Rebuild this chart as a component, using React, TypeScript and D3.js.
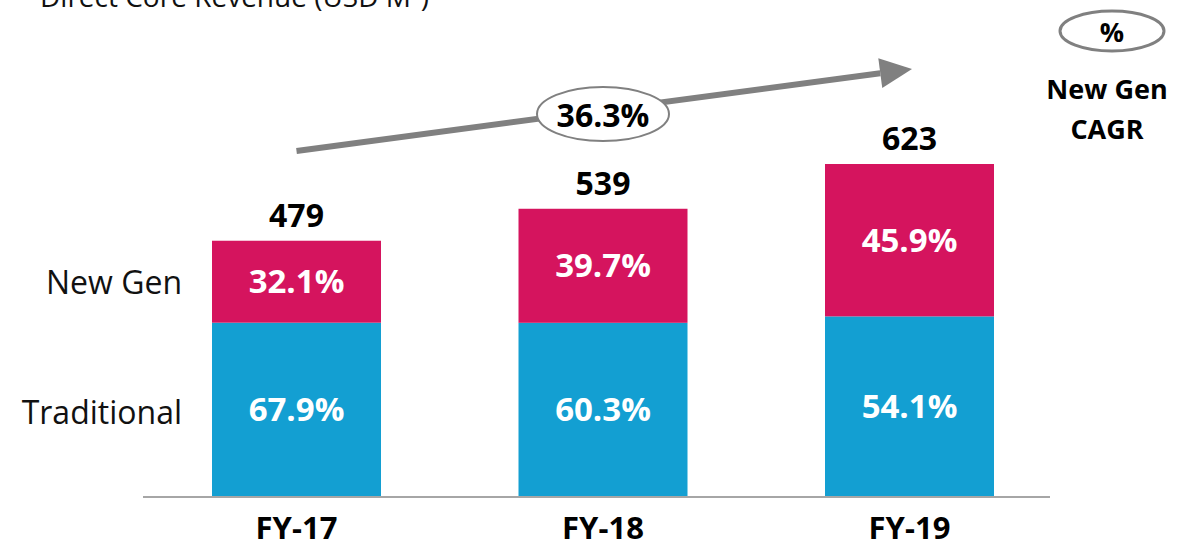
import React, { useEffect, useRef } from 'react';
import * as d3 from 'd3';

const years = ['FY-17', 'FY-18', 'FY-19'];
const totals = [479, 539, 623];
const newGenShare = [32.1, 39.7, 45.9];
const traditionalShare = [67.9, 60.3, 54.1];
const cagrLabel = '36.3%';

const W = 1189;
const H = 549;
const MAGENTA = '#D5145E';
const BLUE = '#139FD2';
const GREY = '#808080';
const FONT = "'Open Sans', 'Noto Sans', sans-serif";

const App = () => {
    const svgRef = useRef<SVGSVGElement>(null);

    useEffect(() => {
        if (!svgRef.current) return;
        const svg = d3.select(svgRef.current);
        svg.selectAll('*').remove();

        const x = d3.scalePoint<string>().domain(years).range([296.5, 909.5]);
        const barW = 169;
        const y = d3.scaleLinear().domain([0, 623]).range([496, 164]);

        // title, cut off at the top (as in the source slide)
        svg.append('text')
            .attr('x', 40).attr('y', 7)
            .attr('font-family', FONT).attr('font-size', 28).attr('fill', '#111')
            .text('Direct Core Revenue (USD M¹)');

        const rows = years.map((yr, i) => ({
            yr, total: totals[i], ng: newGenShare[i], tr: traditionalShare[i],
            split: totals[i] * traditionalShare[i] / 100
        }));

        const g = svg.append('g');

        // traditional
        g.selectAll('.tr').data(rows).join('rect')
            .attr('x', d => x(d.yr)! - barW / 2)
            .attr('width', barW)
            .attr('y', d => y(d.split))
            .attr('height', d => y(0) - y(d.split))
            .attr('fill', BLUE);

        // new gen
        g.selectAll('.ng').data(rows).join('rect')
            .attr('x', d => x(d.yr)! - barW / 2)
            .attr('width', barW)
            .attr('y', d => y(d.total))
            .attr('height', d => y(d.split) - y(d.total))
            .attr('fill', MAGENTA);

        const segText = (sel: any) => sel
            .attr('text-anchor', 'middle').attr('dominant-baseline', 'central')
            .attr('font-family', FONT).attr('font-weight', 700)
            .attr('font-size', 33).attr('fill', '#fff');

        g.selectAll('.trl').data(rows).join('text')
            .attr('x', d => x(d.yr)!)
            .attr('y', d => (y(0) + y(d.split)) / 2 - 1)
            .call(segText)
            .text(d => d.tr.toFixed(1) + '%');

        g.selectAll('.ngl').data(rows).join('text')
            .attr('x', d => x(d.yr)!)
            .attr('y', d => (y(d.split) + y(d.total)) / 2 - 1)
            .call(segText)
            .text(d => d.ng.toFixed(1) + '%');

        // totals
        g.selectAll('.tot').data(rows).join('text')
            .attr('x', d => x(d.yr)!)
            .attr('y', d => y(d.total) - 14)
            .attr('text-anchor', 'middle')
            .attr('font-family', FONT).attr('font-weight', 700)
            .attr('font-size', 32).attr('fill', '#000')
            .text(d => d.total);

        // baseline
        svg.append('line')
            .attr('x1', 143).attr('x2', 1050)
            .attr('y1', y(0) + 1).attr('y2', y(0) + 1)
            .attr('stroke', '#a6a6a6').attr('stroke-width', 2);

        // x labels
        g.selectAll('.xl').data(years).join('text')
            .attr('x', d => x(d)!)
            .attr('y', 539)
            .attr('text-anchor', 'middle')
            .attr('font-family', FONT).attr('font-weight', 700)
            .attr('font-size', 31).attr('fill', '#000')
            .text(d => d);

        // series labels on left
        const sLab = [
            { t: 'New Gen', v: (y(rows[0].split) + y(rows[0].total)) / 2 },
            { t: 'Traditional', v: (y(0) + y(rows[0].split)) / 2 + 2 }
        ];
        svg.selectAll('.sl').data(sLab).join('text')
            .attr('x', 182).attr('y', d => d.v)
            .attr('text-anchor', 'end').attr('dominant-baseline', 'central')
            .attr('font-family', FONT).attr('font-size', 32).attr('fill', '#111')
            .text(d => d.t);

        // CAGR arrow
        const x0 = x(years[0])!, y0 = 151;
        const x1 = 912, y1 = 69;
        const ang = Math.atan2(y1 - y0, x1 - x0);
        const head = 32, hw = 15;
        const bx = x1 - head * Math.cos(ang), by = y1 - head * Math.sin(ang);
        svg.append('line')
            .attr('x1', x0).attr('y1', y0).attr('x2', bx).attr('y2', by)
            .attr('stroke', GREY).attr('stroke-width', 6);
        svg.append('path')
            .attr('d', d3.line()([
                [x1, y1],
                [bx + hw * Math.sin(ang), by - hw * Math.cos(ang)],
                [bx - hw * Math.sin(ang), by + hw * Math.cos(ang)]
            ]) + 'Z')
            .attr('fill', GREY);

        const cx = x(years[1])!, cy = 114;
        svg.append('ellipse')
            .attr('cx', cx).attr('cy', cy).attr('rx', 66).attr('ry', 27)
            .attr('fill', '#fff').attr('stroke', GREY).attr('stroke-width', 2);
        svg.append('text')
            .attr('x', cx).attr('y', cy)
            .attr('text-anchor', 'middle').attr('dominant-baseline', 'central')
            .attr('font-family', FONT).attr('font-weight', 700)
            .attr('font-size', 32).attr('fill', '#000')
            .text(cagrLabel);

        // legend, top right
        svg.append('ellipse')
            .attr('cx', 1112).attr('cy', 31).attr('rx', 52).attr('ry', 20)
            .attr('fill', '#fff').attr('stroke', GREY).attr('stroke-width', 3);
        svg.append('text')
            .attr('x', 1112).attr('y', 31)
            .attr('text-anchor', 'middle').attr('dominant-baseline', 'central')
            .attr('font-family', FONT).attr('font-weight', 700)
            .attr('font-size', 27).attr('fill', '#000')
            .text('%');
        svg.selectAll('.lg').data(['New Gen', 'CAGR']).join('text')
            .attr('x', 1107).attr('y', (d, i) => 88 + i * 40)
            .attr('text-anchor', 'middle').attr('dominant-baseline', 'central')
            .attr('font-family', FONT).attr('font-weight', 700)
            .attr('font-size', 27).attr('fill', '#000')
            .text(d => d);
    }, []);

    return (
        <svg ref={svgRef} width={W} height={H}
            style={{ position: 'absolute', left: 0, top: 0, background: '#fff' }} />
    );
};

export default App;
